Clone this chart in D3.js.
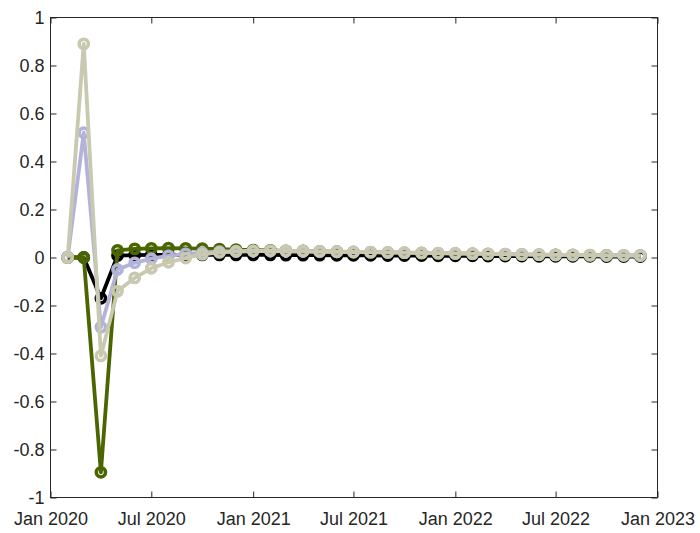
<!DOCTYPE html>
<html>
<head>
<meta charset="utf-8">
<script src="https://cdn.jsdelivr.net/npm/d3@7"></script>
<style>
  html, body { margin: 0; padding: 0; background: #fff; }
  svg { display: block; }
  text { font-family: "Liberation Sans", Arial, Helvetica, sans-serif; }
</style>
</head>
<body>
<svg id="chart" width="700" height="533"></svg>
<script>
// Monthly dates: Feb 2020 .. Dec 2022
const months = [
  "2020-02","2020-03","2020-04","2020-05","2020-06","2020-07","2020-08","2020-09","2020-10","2020-11","2020-12",
  "2021-01","2021-02","2021-03","2021-04","2021-05","2021-06","2021-07","2021-08","2021-09","2021-10","2021-11","2021-12",
  "2022-01","2022-02","2022-03","2022-04","2022-05","2022-06","2022-07","2022-08","2022-09","2022-10","2022-11","2022-12"
];

const seriesBlack = [0, 0, -0.17, 0.008, 0.01, 0.011, 0.011, 0.011, 0.011, 0.011, 0.011, 0.011, 0.011, 0.010, 0.010, 0.010, 0.009, 0.009, 0.009, 0.008, 0.008, 0.008, 0.007, 0.007, 0.007, 0.006, 0.006, 0.006, 0.005, 0.005, 0.005, 0.005, 0.004, 0.004, 0.004];
const seriesGreen = [0, 0, -0.895, 0.03, 0.036, 0.038, 0.039, 0.038, 0.037, 0.035, 0.033, 0.031, 0.03, 0.028, 0.027, 0.025, 0.024, 0.022, 0.021, 0.02, 0.019, 0.018, 0.017, 0.016, 0.015, 0.014, 0.013, 0.012, 0.011, 0.011, 0.01, 0.009, 0.009, 0.008, 0.008];
const seriesLavender = [0, 0.52, -0.29, -0.05, -0.022, -0.005, 0.007, 0.015, 0.02, 0.024, 0.026, 0.027, 0.028, 0.027, 0.026, 0.025, 0.024, 0.023, 0.022, 0.021, 0.02, 0.019, 0.018, 0.017, 0.016, 0.015, 0.014, 0.013, 0.012, 0.011, 0.011, 0.01, 0.009, 0.009, 0.008];
const seriesBeige = [0, 0.89, -0.41, -0.14, -0.085, -0.045, -0.02, -0.002, 0.013, 0.021, 0.025, 0.027, 0.028, 0.027, 0.026, 0.025, 0.024, 0.023, 0.022, 0.021, 0.02, 0.019, 0.018, 0.017, 0.016, 0.015, 0.014, 0.013, 0.012, 0.011, 0.011, 0.01, 0.009, 0.009, 0.008];

const seriesColors = ["#000000", "#4b6600", "#b3b3d9", "#c8c9b0"];
const seriesList = [seriesBlack, seriesGreen, seriesLavender, seriesBeige];

const yTicks = [-1, -0.8, -0.6, -0.4, -0.2, 0, 0.2, 0.4, 0.6, 0.8, 1];
const xTickLabels = ["Jan 2020","Jul 2020","Jan 2021","Jul 2021","Jan 2022","Jul 2022","Jan 2023"];
const xTickDates = ["2020-01","2020-07","2021-01","2021-07","2022-01","2022-07","2023-01"];

const parse = d3.timeParse("%Y-%m");
const L = 50.5, R = 657.5, T = 17.5, B = 497.5;
const axisColor = "#262626";

const x = d3.scaleTime().domain([parse("2020-01"), parse("2023-01")]).range([L, R]);
const y = d3.scaleLinear().domain([-1, 1]).range([B, T]);

const svg = d3.select("#chart");

// Lines and markers
const line = d3.line().x((d, i) => x(parse(months[i]))).y(d => y(d));
seriesList.forEach((s, k) => {
  const g = svg.append("g");
  g.append("path").datum(s)
    .attr("d", line)
    .attr("fill", "none")
    .attr("stroke", seriesColors[k])
    .attr("stroke-width", 3.8)
    .attr("stroke-linejoin", "round");
  g.selectAll("circle").data(s).join("circle")
    .attr("cx", (d, i) => x(parse(months[i])))
    .attr("cy", d => y(d))
    .attr("r", 4.6)
    .attr("fill", "none")
    .attr("stroke", seriesColors[k])
    .attr("stroke-width", 3.6);
});

// Axes
const tickLen = 6;
const xTickVals = xTickDates.map(parse);

const axBottom = svg.append("g").attr("transform", `translate(0,${B})`)
  .call(d3.axisBottom(x).tickValues(xTickVals).tickSize(-tickLen).tickPadding(15)
    .tickFormat((d, i) => xTickLabels[i]));
const axTop = svg.append("g").attr("transform", `translate(0,${T})`)
  .call(d3.axisTop(x).tickValues(xTickVals).tickSize(-tickLen).tickFormat(""));
const axLeft = svg.append("g").attr("transform", `translate(${L},0)`)
  .call(d3.axisLeft(y).tickValues(yTicks).tickSize(-tickLen).tickPadding(6)
    .tickFormat(d => String(Math.round(d * 10) / 10)));
const axRight = svg.append("g").attr("transform", `translate(${R},0)`)
  .call(d3.axisRight(y).tickValues(yTicks).tickSize(-tickLen).tickFormat(""));

[axBottom, axTop, axLeft, axRight].forEach(g => {
  g.select(".domain").remove();
  g.selectAll(".tick line").attr("stroke", axisColor).attr("stroke-width", 1);
  g.selectAll("text").attr("fill", axisColor).style("font-size", "18px")
    .style("font-family", '"Liberation Sans", Arial, sans-serif');
});
svg.append("rect").attr("x", L).attr("y", T).attr("width", R - L).attr("height", B - T)
  .attr("fill", "none").attr("stroke", axisColor).attr("stroke-width", 1);
</script>
</body>
</html>
